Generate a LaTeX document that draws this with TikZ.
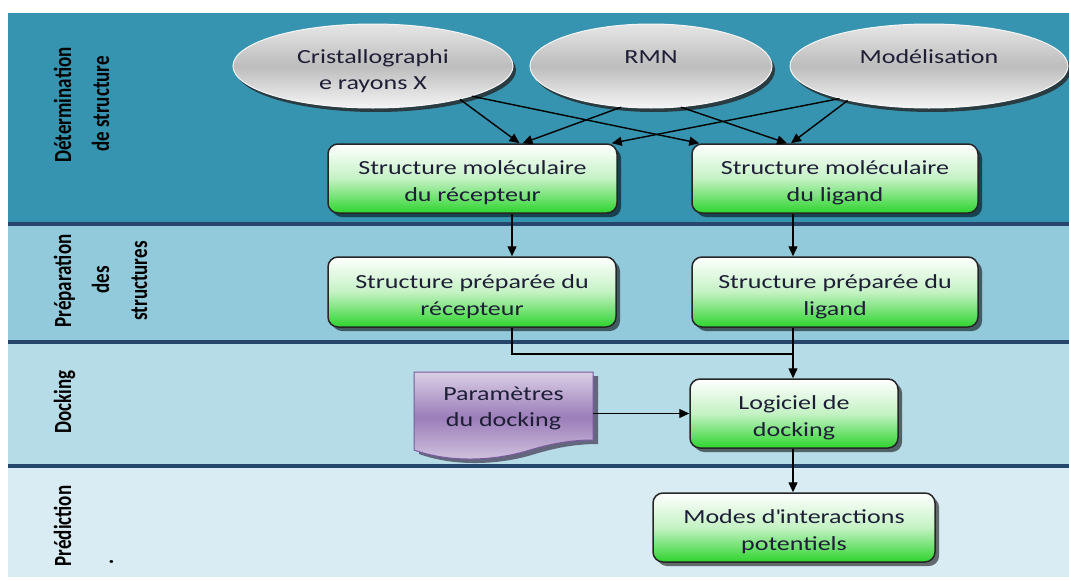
\documentclass[tikz,border=0pt]{standalone}
\usepackage{graphicx}
\usepackage{fontspec}
\setmainfont{Carlito}[FakeStretch=1.3]
\newfontfamily\lanefont{Carlito}
\usetikzlibrary{arrows.meta,shapes.geometric,shadows,calc}
\definecolor{laneA}{HTML}{3794B0}
\definecolor{laneB}{HTML}{92CADC}
\definecolor{laneC}{HTML}{B6DCE8}
\definecolor{laneD}{HTML}{DAECF3}
\definecolor{sepcol}{HTML}{27466B}
\definecolor{txt}{HTML}{1E1E36}
\definecolor{boxgreen}{HTML}{2ED42E}
\definecolor{boxmid}{HTML}{C4F2C4}
\definecolor{docTop}{HTML}{DACFE6}
\definecolor{docMid}{HTML}{9B7DB8}
\definecolor{docBot}{HTML}{D4C8E2}
\definecolor{docEdge}{HTML}{7A5A9C}
\newcommand{\dn}{\rule{0pt}{23pt}}
\newcommand{\sq}{\XeTeXglyph\XeTeXcharglyph"0027\relax}
\begin{document}
\begin{tikzpicture}[x=1pt,y=-1pt,
  box/.style={draw=black!85, line width=1.5pt, rounded corners=10pt,
    top color=white, bottom color=boxgreen, middle color=boxmid,
    minimum width=289pt, minimum height=69pt, align=center, text=txt,
    font=\fontsize{20}{27}\selectfont,
    drop shadow={shadow xshift=4pt, shadow yshift=-4pt, fill=black, opacity=.55}},
  ell/.style={ellipse, draw=white!92!gray, line width=1pt, inner sep=0pt,
    top color=black!10, bottom color=black!4, middle color=black!26,
    drop shadow={shadow xshift=3pt, shadow yshift=-4pt, fill=black!85, opacity=.8}},
  etxt/.style={text=txt, font=\fontsize{20}{26}\selectfont, align=center},
  lab/.style={rotate=90, anchor=base, inner sep=0pt, text=black,
    font=\lanefont\bfseries\fontsize{19}{19}\selectfont},
  arr/.style={draw=black, line width=1.4pt, -{Triangle[length=10pt,width=9pt]}},
  conn/.style={draw=black, line width=1.3pt},
  sep/.style={draw=sepcol, line width=4pt}
]
\useasboundingbox (0,0) rectangle (1069,581);
\fill[white] (0,0) rectangle (1069,581);
% lanes
\fill[laneA] (8,13) rectangle (1069,223);
\fill[laneB] (8,223) rectangle (1069,342);
\fill[laneC] (8,342) rectangle (1069,466);
\fill[laneD] (8,466) rectangle (1069,577);
\draw[sep] (8,223.5) -- (1069,223.5);
\draw[sep] (8,341.5) -- (1069,341.5);
\draw[sep] (8,465.5) -- (1069,465.5);
% lane labels
\node[lab] (labA1) at (71,105) {\scalebox{1}[1.3]{Détermination}};
\node[lab] (labA2) at (109,104) {\scalebox{1}[1.3]{de structure}};
\node[lab] (labB1) at (71,281) {\scalebox{1}[1.3]{Préparation}};
\node[lab] (labB2) at (109,280) {\scalebox{1}[1.3]{des}};
\node[lab] (labB3) at (147,281) {\scalebox{1}[1.3]{structures}};
\node[lab] (labC) at (71,402) {\scalebox{1}[1.3]{Docking}};
\node[lab] (labD) at (71,526) {\scalebox{1}[1.3]{Prédiction}};
\node[lab] (dot) at (113,562) {\scalebox{1}[1.3]{.}};
% ellipses
\node[ell, minimum width=280pt, minimum height=84pt] (crist) at (373,66) {};
\node[ell, minimum width=242pt, minimum height=84pt] (rmn) at (651,66) {};
\node[ell, minimum width=278pt, minimum height=84pt] (mod) at (929,66) {};
\node[etxt] (cristT) at (373,71) {Cristallographi\\e rayons X};
\node[etxt, anchor=base] (rmnT) at (651,63) {RMN};
\node[etxt, anchor=base] (modT) at (929,63) {Modélisation};
% boxes
\node[box] (R1) at (472.5,178.5) {\dn Structure moléculaire\\du récepteur};
\node[box, minimum width=286pt] (L1) at (835,178.5) {\dn Structure moléculaire\\du ligand};
\node[box, minimum width=288pt, minimum height=70pt] (R2) at (472,292) {\dn Structure préparée du\\récepteur};
\node[box, minimum width=286pt, minimum height=70pt] (L2) at (835,292) {\dn Structure préparée du\\ligand};
\node[box, minimum width=208pt] (Log) at (794,413.5) {\dn Logiciel de\\docking};
\node[box, minimum width=282pt] (Modes) at (794,527.5) {\dn Modes d\sq interactions\\potentiels};
% document shape
\fill[black!55!docEdge, opacity=.65, shift={(5,4)}]
  (414,372) -- (593,372) -- (593,440) .. controls (570,440) and (550,444) .. (530,450)
  .. controls (495,461) and (450,463) .. (414,450) -- cycle;
\shade[top color=docTop, bottom color=docBot, middle color=docMid, draw=docEdge, line width=1pt]
  (414,372) -- (593,372) -- (593,440) .. controls (570,440) and (550,444) .. (530,450)
  .. controls (495,461) and (450,463) .. (414,450) -- cycle;
\node[etxt, minimum width=179pt, minimum height=70pt] (param) at (503.5,408) {Paramètres\\du docking};
% connectors
\coordinate (colR) at (512,0);
\coordinate (colL) at (793,0);
\coordinate (join) at (793,354);
\draw[arr] (crist.-21) -- ($(R1.north)+(47,0)$);
\draw[arr] (crist.-17) -- ($(L1.north west)+(8,0)$);
\draw[arr] (rmn.-126) -- ($(R1.north)+(50,0)$);
\draw[arr] (rmn.-54) -- ($(L1.north)+(-48,0)$);
\draw[arr] (mod.-160) -- ($(R1.north east)+(-6,0)$);
\draw[arr] (mod.-157) -- ($(L1.north)+(-44,0)$);
\draw[arr] (R1.south -| colR) -- (R2.north -| colR);
\draw[arr] (L1.south -| colL) -- (L2.north -| colL);
\draw[conn] (R2.south -| colR) |- (join);
\draw[arr] (L2.south -| colL) -- (Log.north -| colL);
\draw[arr] (param.east |- Log.west) -- (Log.west);
\draw[arr] (Log.south -| colL) -- (Modes.north -| colL);
\end{tikzpicture}
\end{document}
